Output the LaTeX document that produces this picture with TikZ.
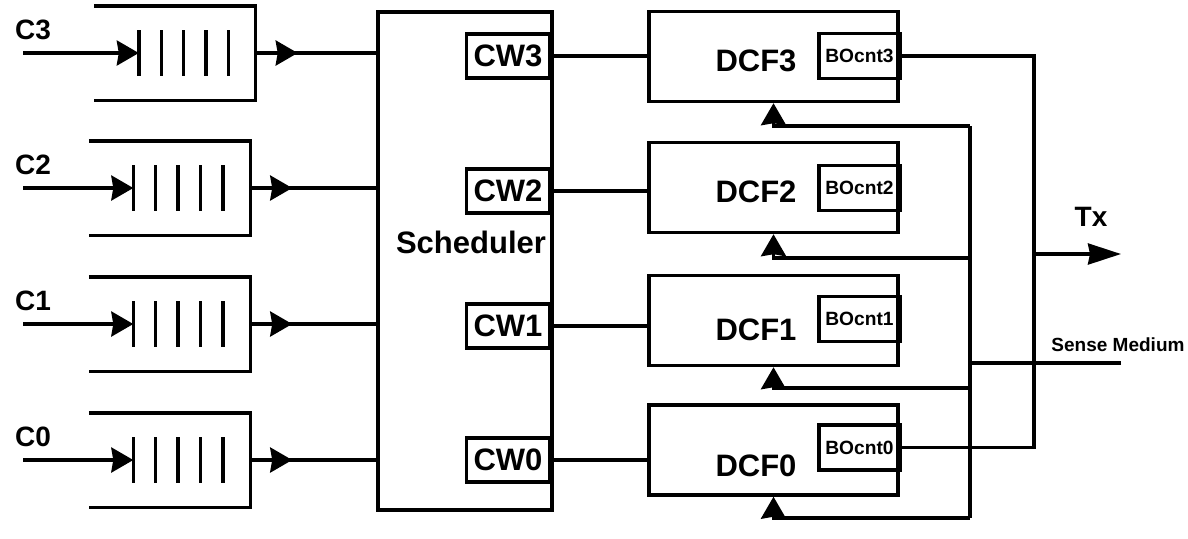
\documentclass[tikz,border=0pt]{standalone}
\usepackage{fontspec}
\setmainfont{Liberation Sans}
\usetikzlibrary{arrows.meta, positioning}

\begin{document}
\begin{tikzpicture}[x=0.5pt, y=-0.5pt, line width=1.7pt,
big/.style={font=\bfseries\fontsize{15.5}{18}\selectfont, inner sep=0pt},
mid/.style={font=\bfseries\fontsize{14}{16}\selectfont, inner sep=0pt},
small/.style={font=\bfseries\fontsize{9.6}{11}\selectfont, inner sep=0pt},
queue/.style={minimum width=79pt, minimum height=45.5pt, inner sep=0pt},
sched/.style={rectangle, draw, minimum width=87pt, minimum height=249pt, inner sep=0pt},
cwbox/.style={rectangle, draw, big, minimum width=41.5pt, minimum height=22pt},
dcfbox/.style={rectangle, draw, minimum width=124.5pt, minimum height=45pt, inner sep=0pt},
bobox/.style={rectangle, draw, small, minimum width=40.5pt, minimum height=22.5pt},
tip/.style={-{Stealth[length=11pt, width=12.5pt, inset=1pt]}},
txtip/.style={-{Stealth[length=16.5pt, width=10.5pt, inset=1pt]}}
]
\useasboundingbox (0,0) rectangle (1188,538);

% queues
\foreach \i/\y/\cx in {3/53/175, 2/188/169.5, 1/324/169.5, 0/460/169.5} {
  \node [queue] (q\i) at (\cx,\y) {};
  \draw (q\i.north west) -- (q\i.north east) -- (q\i.south east) -- (q\i.south west);
  \foreach \k in {0,...,4}
    \draw ([xshift=22.25pt+\k*11.2pt, yshift=11.5pt]q\i.west) -- ([xshift=22.25pt+\k*11.2pt, yshift=-11.5pt]q\i.west);
  \coordinate (q\i-b) at ([xshift=22.25pt]q\i.west);
  \coordinate (in\i) at (23,\y);
  \node [mid] (c\i) at (33,\y-23) {C\i};
  \draw [tip] (in\i) -- (q\i-b);
}

% scheduler
\node [sched] (sched) at (465,261) {};
\node [big] (sched-lbl) at (471,242) {Scheduler};
\foreach \i in {3,...,0}
  \draw (q\i.east) -- (q\i.east -| sched.west);
\foreach \i in {3,...,0}
  \draw [tip] (q\i.east) -- ++(42,0);

% contention windows, DCF blocks and backoff counters
\foreach \i/\cy/\dy/\ly/\by in {3/56/56.5/61/56, 2/191/187.5/192/188, 1/326/320.5/330/319, 0/460/450/466/447.5} {
  \node [cwbox] (cw\i) at (508,\cy) {CW\i};
  \node [dcfbox] (dcf\i) at (773.5,\dy) {};
  \node [big] (dcf\i-lbl) at (756,\ly) {DCF\i};
  \node [bobox] (bo\i) at (859.5,\by) {BOcnt\i};
  \draw (cw\i.east) -- (cw\i.east -| dcf\i.west);
}

% transmit
\coordinate (bus) at (1034,254);
\coordinate (txend) at (1121,254);
\draw (bo3.east) -| (bus) |- (bo0.east);
\draw [txtip] (bus) -- (txend);
\node [mid] (tx) at (1091,217) {Tx};

% sense medium feedback
\coordinate (sm) at (1121,363);
\foreach \i/\y in {3/126, 2/258, 1/388, 0/518} {
  \coordinate (fb\i) at (970,\y);
  \draw [tip] (fb\i) -| (dcf\i.south);
}
\draw (fb3) -- (fb0);
\draw (sm) -- (sm -| fb3);
\node [small, font=\bfseries\fontsize{9.5}{11}\selectfont] (sm-lbl) at (1118,345) {Sense Medium};
\end{tikzpicture}
\end{document}
